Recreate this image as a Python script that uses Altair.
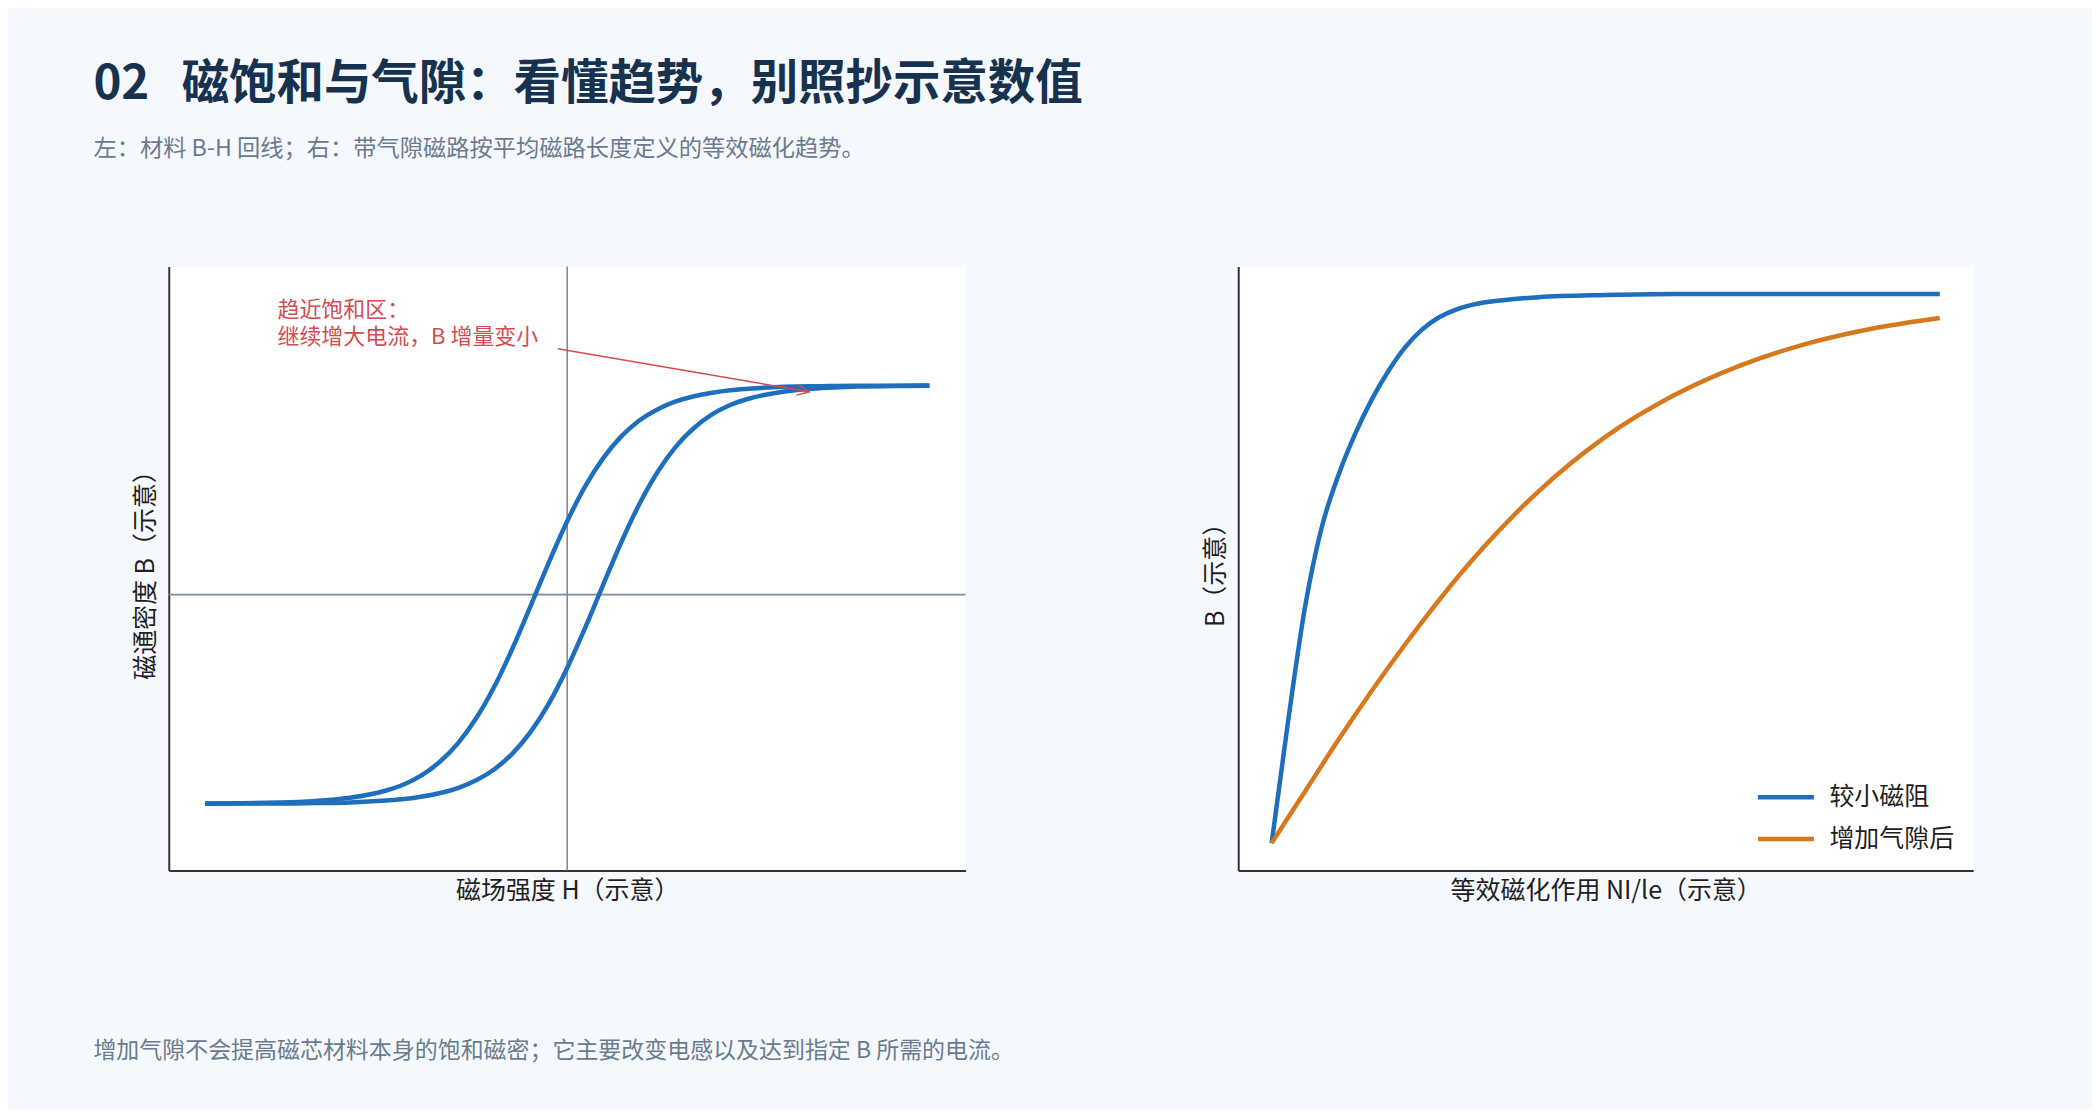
import altair as alt
import pandas as pd

BLUE = "#1e6ebe"
ORANGE = "#d7781c"
RED = "#d64a4f"
ZERO = "#7d8aa0"
FONT = "Noto Sans CJK SC"

# left panel: B-H loop (arbitrary units)
h_vals = [-5, -4.5, -4, -3.5, -3, -2.5, -2.25, -2, -1.75, -1.5, -1.25, -1, -0.75, -0.5, -0.25,
          0, 0.25, 0.5, 0.75, 1, 1.25, 1.5, 1.75, 2, 2.25, 2.5, 3, 3.5, 4, 4.5, 5]
b_rising = [-1.0, -0.999, -0.999, -0.997, -0.994, -0.985, -0.978, -0.966, -0.949, -0.924, -0.887,
            -0.834, -0.758, -0.654, -0.519, -0.351, -0.157, 0.05, 0.253, 0.436, 0.588, 0.708,
            0.797, 0.862, 0.907, 0.937, 0.972, 0.988, 0.995, 0.998, 0.999]
b_falling = [-0.999, -0.998, -0.995, -0.988, -0.972, -0.937, -0.907, -0.862, -0.797, -0.708, -0.588,
             -0.436, -0.253, -0.05, 0.157, 0.351, 0.519, 0.654, 0.758, 0.834, 0.887, 0.924,
             0.949, 0.966, 0.978, 0.985, 0.994, 0.997, 0.999, 0.999, 1.0]

note_lines = ["趋近饱和区：", "继续增大电流，B 增量变小"]
note_h = [-4.0, -4.0]
note_b = [1.36, 1.231]
arrow_from = (-0.13, 1.176)
arrow_to = (3.34, 0.97)

# right panel: equivalent magnetisation curves
ni_small = [0, 0.25, 0.5, 0.75, 1.0, 1.25, 1.5, 1.75, 2.0, 2.25, 2.5, 2.75, 3.0, 3.5, 4.0, 5.0, 6.0, 8.0, 10]
b_small = [0, 0.225, 0.43, 0.575, 0.67, 0.745, 0.808, 0.86, 0.903, 0.935, 0.957, 0.971, 0.98, 0.989,
           0.994, 0.998, 1.0, 1.0, 1.0]
ni_gap = [0, 0.5, 1, 2, 3, 4, 5, 6, 7, 8, 9, 10]
b_gap = [0, 0.094, 0.188, 0.362, 0.515, 0.641, 0.74, 0.814, 0.869, 0.909, 0.937, 0.956]
cases = ["较小磁阻", "增加气隙后"]

loop = pd.DataFrame({
    "H": h_vals + h_vals,
    "B": b_rising + b_falling,
    "branch": ["rising"] * len(h_vals) + ["falling"] * len(h_vals),
})
notes = pd.DataFrame({"H": note_h, "B": note_b, "t": note_lines})
arrow = pd.DataFrame({"H": [arrow_from[0]], "B": [arrow_from[1]],
                      "H2": [arrow_to[0]], "B2": [arrow_to[1]]})
tip = pd.DataFrame({"H": [arrow_to[0]], "B": [arrow_to[1]]})

ax = dict(labels=False, ticks=False, grid=False)
hx = alt.X("H:Q", scale=alt.Scale(domain=[-5.5, 5.5], nice=False, zero=False),
           axis=alt.Axis(title="磁场强度 H（示意）", **ax))
by = alt.Y("B:Q", scale=alt.Scale(domain=[-1.32, 1.57], nice=False, zero=False),
           axis=alt.Axis(title="磁通密度 B（示意）", **ax))

zero_v = alt.Chart(pd.DataFrame({"H": [0]})).mark_rule(color=ZERO, strokeWidth=1.6).encode(x=hx)
zero_h = alt.Chart(pd.DataFrame({"B": [0]})).mark_rule(color=ZERO, strokeWidth=1.6).encode(y=by)
curves = alt.Chart(loop).mark_line(color=BLUE, strokeWidth=4.5, interpolate="monotone").encode(
    x=hx, y=by, detail="branch:N", order="H:Q"
)
note_text = alt.Chart(notes).mark_text(
    align="left", baseline="middle", font=FONT, fontSize=22, color=RED
).encode(x=hx, y=by, text="t:N")
arrow_line = alt.Chart(arrow).mark_rule(color=RED, strokeWidth=1.5).encode(
    x=hx, y=by, x2="H2:Q", y2="B2:Q"
)
arrow_head = alt.Chart(tip).mark_point(
    shape="M -1 -0.45 L 0 0 L -1 0.45", filled=False, stroke=RED, strokeWidth=1.5,
    size=576, angle=9.7, opacity=1
).encode(x=hx, y=by)

left = alt.layer(zero_v, zero_h, curves, arrow_line, arrow_head, note_text).properties(
    width=798, height=605
)

mag = pd.DataFrame({
    "NI": ni_small + ni_gap,
    "B": b_small + b_gap,
    "case": [cases[0]] * len(ni_small) + [cases[1]] * len(ni_gap),
})
right = alt.Chart(mag).mark_line(strokeWidth=4.5, interpolate="monotone").encode(
    x=alt.X("NI:Q", scale=alt.Scale(domain=[-0.5, 10.5], nice=False, zero=False),
            axis=alt.Axis(title="等效磁化作用 NI/le（示意）", **ax)),
    y=alt.Y("B:Q", scale=alt.Scale(domain=[-0.05, 1.05], nice=False, zero=False),
            axis=alt.Axis(title="B（示意）", **ax)),
    color=alt.Color("case:N", scale=alt.Scale(domain=cases, range=[BLUE, ORANGE]),
                    legend=alt.Legend(title=None, orient="bottom-right", symbolType="M -2 0 L 2 0",
                                      symbolSize=784, symbolStrokeWidth=4.5, labelFontSize=25,
                                      labelFont=FONT, labelColor="#1f1f1f", labelOffset=27,
                                      rowPadding=12, offset=18, padding=0)),
    order="NI:Q",
).properties(width=736, height=605)

panels = alt.hconcat(left, right, spacing=273, bounds="flush").resolve_scale(
    color="independent"
).resolve_legend(color="independent").properties(
    title=alt.TitleParams(
        "增加气隙不会提高磁芯材料本身的饱和磁密；它主要改变电感以及达到指定 B 所需的电流。",
        orient="bottom", anchor="start", font=FONT, fontSize=23, fontWeight="normal",
        color="#6b7b8f", offset=136, dx=-40,
    )
)

chart = alt.vconcat(panels).properties(
    title=alt.TitleParams(
        "02\u00a0\u00a0\u00a0磁饱和与气隙：看懂趋势，别照抄示意数值",
        subtitle="左：材料 B-H 回线；右：带气隙磁路按平均磁路长度定义的等效磁化趋势。",
        anchor="start", font=FONT, fontSize=47.5, fontWeight="bold", color="#16324f",
        subtitleFont=FONT, subtitleFontSize=23.3, subtitleColor="#6b7b8f", subtitlePadding=30,
        offset=105, dx=0,
    ),
    padding={"left": 85, "top": 51, "right": 118, "bottom": 45},
).configure(
    background="#f5f8fc", font=FONT
).configure_view(
    fill="white", stroke="transparent"
).configure_axis(
    domainColor="#333333", domainWidth=2, titleFont=FONT, titleFontSize=25,
    titleFontWeight="normal", titleColor="#1f1f1f", titlePadding=8
).configure_axisY(
    titlePadding=10
)

chart.save("out.html", embed_options={"renderer": "svg", "actions": False})
